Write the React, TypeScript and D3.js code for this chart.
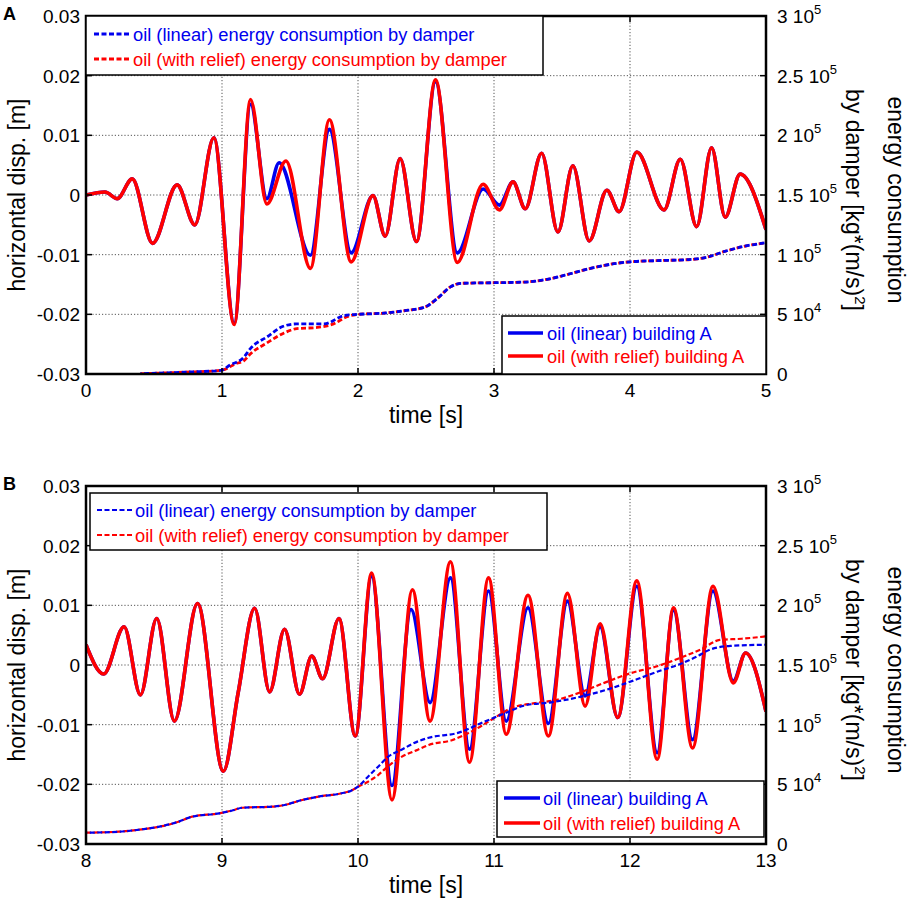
import * as d3 from "d3";

// time [s], horizontal displacement [m]  (building A, panel A: 0-5 s)
const dispLinearA: [number, number][] = [
  [0, 0], [0.14, 0.0005], [0.23, -0.0006], [0.34, 0.0027], [0.49, -0.0081], [0.67, 0.0017],
  [0.8, -0.005], [0.94, 0.0096], [1.09, -0.0215], [1.21, 0.0152], [1.33, -0.0006], [1.42, 0.0054],
  [1.65, -0.0101], [1.79, 0.011], [1.95, -0.0097], [2.11, -0.0001], [2.2, -0.0069], [2.31, 0.0061],
  [2.43, -0.0078], [2.57, 0.019], [2.73, -0.0097], [2.92, 0.001], [3.04, -0.0017], [3.14, 0.0022],
  [3.23, -0.0023], [3.35, 0.007], [3.47, -0.0062], [3.58, 0.0049], [3.7, -0.0077], [3.83, 0.0008],
  [3.92, -0.0028], [4.05, 0.0072], [4.25, -0.0025], [4.37, 0.006], [4.49, -0.0053], [4.6, 0.0079],
  [4.7, -0.0037], [4.81, 0.0035], [5.0, -0.0058],
];
const dispReliefA: [number, number][] = [
  [0, 0], [0.14, 0.0005], [0.23, -0.0006], [0.34, 0.0027], [0.49, -0.0081], [0.67, 0.0017],
  [0.8, -0.005], [0.94, 0.0096], [1.09, -0.0217], [1.21, 0.016], [1.33, -0.0015], [1.47, 0.0057],
  [1.65, -0.0123], [1.79, 0.0126], [1.95, -0.0112], [2.11, -0.0001], [2.2, -0.0069], [2.31, 0.0061],
  [2.43, -0.0078], [2.57, 0.0193], [2.73, -0.0113], [2.92, 0.0018], [3.04, -0.0025], [3.14, 0.0022],
  [3.23, -0.0023], [3.35, 0.007], [3.47, -0.0062], [3.58, 0.0049], [3.7, -0.0077], [3.83, 0.0008],
  [3.92, -0.0028], [4.05, 0.0072], [4.25, -0.0025], [4.37, 0.006], [4.49, -0.0053], [4.6, 0.0079],
  [4.7, -0.0037], [4.81, 0.0035], [5.0, -0.0058],
];
// time [s], energy consumption by damper [kg*(m/s)^2]
const energyLinearA: [number, number][] = [
  [0.4, 300], [0.72, 1500], [0.99, 3000], [1.06, 7500], [1.16, 14000], [1.21, 21500], [1.33, 31000],
  [1.45, 40000], [1.55, 42000], [1.75, 42000], [1.9, 49000], [2.0, 50000], [2.19, 51000],
  [2.34, 53000], [2.49, 56000], [2.58, 63000], [2.68, 73000], [2.76, 76000], [3.0, 76500],
  [3.22, 77000], [3.42, 80000], [3.56, 84000], [3.71, 88500], [3.86, 92000], [4.0, 94000],
  [4.2, 95000], [4.45, 96000], [4.57, 98000], [4.69, 102500], [4.84, 107000], [5.0, 110000],
];
const energyReliefA: [number, number][] = [
  [0.4, 300], [0.72, 1500], [0.99, 3000], [1.11, 9000], [1.16, 11000], [1.21, 17000], [1.33, 26000],
  [1.45, 34000], [1.55, 38000], [1.7, 39000], [1.82, 42000], [1.92, 48000], [2.0, 50000],
  [2.19, 51000], [2.34, 53000], [2.49, 56000], [2.58, 63000], [2.68, 73000], [2.76, 76000],
  [3.0, 76500], [3.22, 77000], [3.42, 80000], [3.56, 84000], [3.71, 88500], [3.86, 92000],
  [4.0, 94000], [4.2, 95000], [4.45, 96000], [4.57, 98000], [4.69, 102500], [4.84, 107000],
  [5.0, 110000],
];

// panel B: 8-13 s
const dispLinearB: [number, number][] = [
  [8.0, 0.0034], [8.13, -0.0015], [8.28, 0.0064], [8.4, -0.005], [8.52, 0.0078], [8.65, -0.0094],
  [8.82, 0.0103], [9.01, -0.0178], [9.12, -0.0045], [9.24, 0.0095], [9.35, -0.0045], [9.46, 0.006],
  [9.57, -0.0049], [9.66, 0.0015], [9.74, -0.0023], [9.86, 0.0078], [9.98, -0.0119], [10.1, 0.0149],
  [10.25, -0.0202], [10.39, 0.0093], [10.53, -0.0063], [10.68, 0.0146], [10.82, -0.0141],
  [10.96, 0.0124], [11.09, -0.0094], [11.25, 0.0096], [11.4, -0.0098], [11.54, 0.0107],
  [11.67, -0.0052], [11.78, 0.0064], [11.91, -0.0088], [12.05, 0.0132], [12.2, -0.0147],
  [12.32, 0.0092], [12.46, -0.0125], [12.61, 0.0124], [12.76, -0.0027], [12.85, 0.002],
  [13.0, -0.0078],
];
const dispReliefB: [number, number][] = [
  [8.0, 0.0034], [8.13, -0.0015], [8.28, 0.0064], [8.4, -0.005], [8.52, 0.0078], [8.65, -0.0094],
  [8.82, 0.0103], [9.01, -0.0178], [9.12, -0.0045], [9.24, 0.0095], [9.35, -0.0045], [9.46, 0.006],
  [9.57, -0.0049], [9.66, 0.0015], [9.74, -0.0023], [9.86, 0.0078], [9.98, -0.0119], [10.1, 0.0154],
  [10.25, -0.0226], [10.4, 0.0126], [10.53, -0.0094], [10.68, 0.0173], [10.82, -0.0163],
  [10.96, 0.0146], [11.09, -0.0116], [11.25, 0.0117], [11.4, -0.0119], [11.54, 0.012],
  [11.67, -0.0069], [11.78, 0.0069], [11.91, -0.0088], [12.05, 0.0141], [12.2, -0.0158],
  [12.32, 0.0096], [12.46, -0.0139], [12.61, 0.0132], [12.76, -0.003], [12.85, 0.002],
  [13.0, -0.0078],
];
const energyLinearB: [number, number][] = [
  [8.0, 9500], [8.24, 10300], [8.41, 12300], [8.56, 15000], [8.68, 18700], [8.78, 22900],
  [8.98, 25700], [9.07, 27900], [9.15, 30400], [9.37, 31300], [9.46, 32700], [9.59, 36900],
  [9.71, 39700], [9.88, 42500], [9.95, 44700], [10.0, 48000], [10.07, 56000], [10.15, 65000],
  [10.22, 73000], [10.32, 79000], [10.44, 86000], [10.52, 89000], [10.74, 93300], [10.93, 102500],
  [11.08, 109500], [11.22, 116000], [11.42, 118700], [11.64, 123500], [11.86, 130400],
  [12.05, 138000], [12.2, 144400], [12.35, 150000], [12.49, 157000], [12.59, 163000],
  [12.74, 166000], [13.0, 167000],
];
const energyReliefB: [number, number][] = [
  [8.0, 9500], [8.24, 10300], [8.41, 12300], [8.56, 15000], [8.68, 18700], [8.78, 22900],
  [8.98, 25700], [9.07, 27900], [9.15, 30400], [9.37, 31300], [9.46, 32700], [9.59, 36900],
  [9.71, 39700], [9.88, 42500], [9.95, 44700], [10.0, 48000], [10.07, 52000], [10.15, 58000],
  [10.22, 65000], [10.32, 73000], [10.44, 79000], [10.52, 83000], [10.69, 87000], [10.83, 94000],
  [10.98, 104000], [11.13, 114000], [11.3, 118000], [11.47, 121000], [11.61, 126000],
  [11.81, 135000], [12.0, 143000], [12.2, 149000], [12.37, 156000], [12.52, 163000],
  [12.66, 171000], [12.82, 172000], [13.0, 174000],
];

const timeTicksA = [0, 1, 2, 3, 4, 5];
const timeTicksB = [8, 9, 10, 11, 12, 13];
const dispTicks = [-0.03, -0.02, -0.01, 0, 0.01, 0.02, 0.03];
const dispLabels = ["-0.03", "-0.02", "-0.01", "0", "0.01", "0.02", "0.03"];
const energyTicks = [0, 50000, 100000, 150000, 200000, 250000, 300000];
const energyMantissa = ["0", "5", "1", "1.5", "2", "2.5", "3"];
const energyExponent = ["", "4", "5", "5", "5", "5", "5"];

const legendEnergy = [
  "oil (linear) energy consumption by damper",
  "oil (with relief) energy consumption by damper",
];
const legendDisp = ["oil (linear) building A", "oil (with relief) building A"];

const BLUE = "#0000ee";
const RED = "#ff0000";
const FONT = "'Liberation Sans', Arial, Helvetica, sans-serif";

type Box = { x0: number; y0: number; x1: number; y1: number; r1: number; r2: number; l0: number; l1: number; tx: number };

function Legend({ box, labels, dashed, dashW }: { box: Box; labels: string[]; dashed: boolean; dashW: number }) {
  const colors = [BLUE, RED];
  return (
    <g>
      <rect x={box.x0} y={box.y0} width={box.x1 - box.x0} height={box.y1 - box.y0} fill="white" stroke="black" strokeWidth={1.5} />
      {labels.map((lab, i) => {
        const cy = box.y0 + (i === 0 ? box.r1 : box.r2);
        return (
          <g key={lab}>
            <line x1={box.x0 + box.l0} x2={box.x0 + box.l1} y1={cy} y2={cy} stroke={colors[i]}
              strokeWidth={dashed ? dashW : 3.4} strokeDasharray={dashed ? "5,2.5" : undefined} />
            <text x={box.x0 + box.tx} y={cy + 6.5} fill={colors[i]} fontSize={18.3} fontFamily={FONT}>{lab}</text>
          </g>
        );
      })}
    </g>
  );
}

function Panel(props: {
  id: string; letter: string; top: number; ticks: number[];
  dLin: [number, number][]; dRel: [number, number][];
  eLin: [number, number][]; eRel: [number, number][];
  legTop: Box; legBottom: Box; dashW: number;
}) {
  const { id, letter, top, ticks, dLin, dRel, eLin, eRel, legTop, legBottom, dashW } = props;
  const left = 86, right = 766, bottom = top + 358;
  const x = d3.scaleLinear().domain([ticks[0], ticks[ticks.length - 1]]).range([left, right]);
  const y = d3.scaleLinear().domain([-0.03, 0.03]).range([bottom, top]);
  const y2 = d3.scaleLinear().domain([0, 300000]).range([bottom, top]);
  const dLine = d3.line<[number, number]>().x((d) => x(d[0])).y((d) => y(d[1])).curve(d3.curveMonotoneX);
  const eLine = d3.line<[number, number]>().x((d) => x(d[0])).y((d) => y2(d[1])).curve(d3.curveMonotoneX);
  const cy = (top + bottom) / 2;
  const tk = 6;
  return (
    <g>
      <defs>
        <clipPath id={id}>
          <rect x={left} y={top} width={right - left} height={bottom - top} />
        </clipPath>
      </defs>
      {/* grid */}
      {ticks.slice(1, -1).map((t) => (
        <line key={"gx" + t} x1={x(t)} x2={x(t)} y1={top} y2={bottom} stroke="#555" strokeWidth={1} strokeDasharray="1.2,2" />
      ))}
      {dispTicks.slice(1, -1).map((v) => (
        <line key={"gy" + v} x1={left} x2={right} y1={y(v)} y2={y(v)} stroke="#555" strokeWidth={1} strokeDasharray="1.2,2" />
      ))}
      <g clipPath={`url(#${id})`} fill="none">
        <path d={dLine(dLin) ?? ""} stroke={BLUE} strokeWidth={3.6} strokeLinejoin="round" />
        <path d={dLine(dRel) ?? ""} stroke={RED} strokeWidth={3.6} strokeLinejoin="round" />
        <path d={eLine(eRel) ?? ""} stroke={RED} strokeWidth={dashW} strokeDasharray="5,2.5" />
        <path d={eLine(eLin) ?? ""} stroke={BLUE} strokeWidth={dashW} strokeDasharray="5,2.5" strokeDashoffset={3.75} />
      </g>
      {/* ticks */}
      {ticks.slice(1, -1).map((t) => (
        <g key={"tx" + t} stroke="black" strokeWidth={1.5}>
          <line x1={x(t)} x2={x(t)} y1={bottom} y2={bottom - tk} />
          <line x1={x(t)} x2={x(t)} y1={top} y2={top + tk} />
        </g>
      ))}
      {dispTicks.slice(1, -1).map((v) => (
        <line key={"ty" + v} x1={left} x2={left + tk} y1={y(v)} y2={y(v)} stroke="black" strokeWidth={1.5} />
      ))}
      {energyTicks.slice(1, -1).map((v) => (
        <line key={"te" + v} x1={right} x2={right - tk} y1={y2(v)} y2={y2(v)} stroke="black" strokeWidth={1.5} />
      ))}
      <rect x={left} y={top} width={right - left} height={bottom - top} fill="none" stroke="black" strokeWidth={2.5} />
      <Legend box={legTop} labels={legendEnergy} dashed={true} dashW={dashW} />
      <Legend box={legBottom} labels={legendDisp} dashed={false} dashW={dashW} />
      {/* tick labels */}
      <g fontFamily={FONT} fontSize={19} fill="black">
        {ticks.map((t) => (
          <text key={"lx" + t} x={x(t)} y={bottom + 23} textAnchor="middle">{t}</text>
        ))}
        {dispTicks.map((v, i) => (
          <text key={"ly" + v} x={left - 6} y={y(v) + 7} textAnchor="end">{dispLabels[i]}</text>
        ))}
        {energyTicks.map((v, i) => (
          <text key={"le" + v} x={right + 11} y={y2(v) + 7}>
            {energyMantissa[i]}
            {energyExponent[i] && (
              <>
                {" 10"}
                <tspan fontSize={13} dy={-9}>{energyExponent[i]}</tspan>
              </>
            )}
          </text>
        ))}
      </g>
      <g fontFamily={FONT} fontSize={23} fill="black">
        <text x={left + (right - left) / 2} y={bottom + 49} textAnchor="middle">time [s]</text>
        <text transform={`translate(25,${cy}) rotate(-90)`} textAnchor="middle">horizontal disp. [m]</text>
        <text transform={`translate(846,${top + 184}) rotate(90)`} textAnchor="middle">
          by damper [kg*(m/s)<tspan fontSize={15} dy={-9}>2</tspan><tspan dy={9}>]</tspan>
        </text>
        <text transform={`translate(888,${top + 184}) rotate(90)`} textAnchor="middle">energy consumption</text>
      </g>
      <text x={3} y={top + 4} fontFamily={FONT} fontSize={18} fontWeight="bold">{letter}</text>
    </g>
  );
}

export default function App() {
  return (
    <svg width={909} height={904} style={{ position: "absolute", left: 0, top: 0, background: "white" }}>
      <rect width={909} height={904} fill="white" />
      <Panel id="clipA" letter="A" top={16} ticks={timeTicksA}
        dLin={dispLinearA} dRel={dispReliefA} eLin={energyLinearA} eRel={energyReliefA}
        legTop={{ x0: 86, y0: 16, x1: 543, y1: 75, r1: 18, r2: 43, l0: 8, l1: 43, tx: 47 }}
        legBottom={{ x0: 502, y0: 316, x1: 766, y1: 374, r1: 17, r2: 40, l0: 6, l1: 41, tx: 45 }}
        dashW={2.8} />
      <Panel id="clipB" letter="B" top={486} ticks={timeTicksB}
        dLin={dispLinearB} dRel={dispReliefB} eLin={energyLinearB} eRel={energyReliefB}
        legTop={{ x0: 90, y0: 493, x1: 547, y1: 550, r1: 17, r2: 42, l0: 7, l1: 42, tx: 45 }}
        legBottom={{ x0: 497, y0: 781, x1: 764, y1: 837, r1: 17, r2: 42, l0: 7, l1: 43, tx: 46 }}
        dashW={2.2} />
    </svg>
  );
}
